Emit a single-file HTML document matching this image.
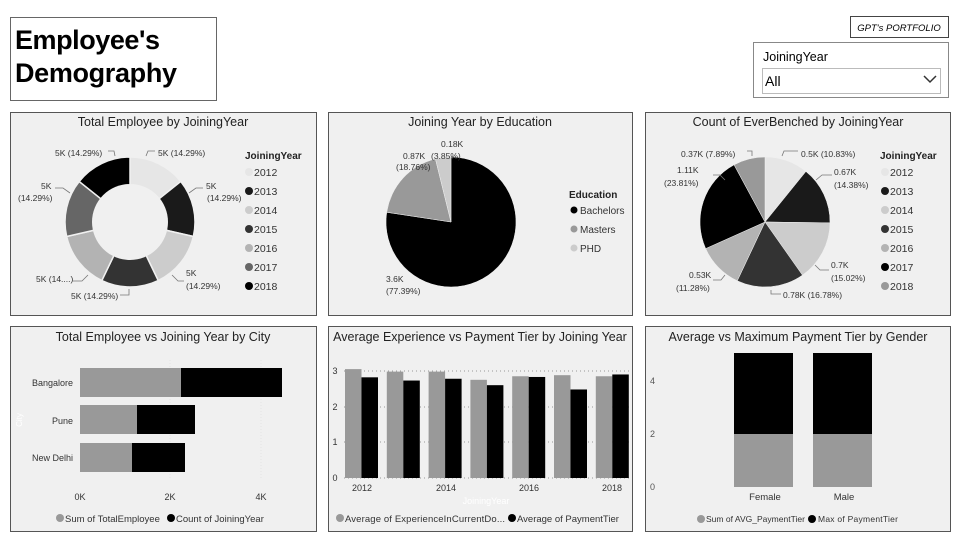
<!DOCTYPE html>
<html><head><meta charset="utf-8"><style>
body{margin:0;background:#fff;width:960px;height:547px;overflow:hidden;font-family:"Liberation Sans",sans-serif}
svg text{font-family:"Liberation Sans",sans-serif}
</style></head><body>
<svg id="s" width="960" height="547" viewBox="0 0 960 547" xmlns="http://www.w3.org/2000/svg">
<rect x="10.5" y="17.5" width="206" height="83" fill="#fff" stroke="#666"/>
<text x="15" y="49" font-size="27" font-weight="bold" fill="#000" textLength="145">Employee's</text>
<text x="15" y="82" font-size="27" font-weight="bold" fill="#000" textLength="162">Demography</text>
<rect x="850.5" y="16.5" width="98" height="21" fill="#fff" stroke="#444"/>
<text x="899" y="31" font-size="9.5" font-style="italic" text-anchor="middle">GPT's PORTFOLIO</text>
<rect x="753.5" y="42.5" width="195" height="55" fill="#fff" stroke="#888"/>
<text x="763" y="61" font-size="12.5">JoiningYear</text>
<rect x="762.5" y="68.5" width="178" height="25" fill="#fff" stroke="#bbb"/>
<text x="765" y="86" font-size="14">All</text>
<path d="M924 76 L930 82 L936 76" fill="none" stroke="#333" stroke-width="1.5"/>

<g fill="#f0f0f0" stroke="#555">
<rect x="10.5" y="112.5" width="306" height="203"/>
<rect x="328.5" y="112.5" width="304" height="203"/>
<rect x="645.5" y="112.5" width="305" height="203"/>
<rect x="10.5" y="326.5" width="306" height="205"/>
<rect x="328.5" y="326.5" width="304" height="205"/>
<rect x="645.5" y="326.5" width="305" height="205"/>
</g>
<g font-size="12.5" text-anchor="middle" fill="#222">
<text x="163" y="126">Total Employee by JoiningYear</text>
<text x="480" y="126">Joining Year by Education</text>
<text x="798" y="126">Count of EverBenched by JoiningYear</text>
<text x="163" y="341">Total Employee vs Joining Year by City</text>
<text x="480" y="341">Average Experience vs Payment Tier by Joining Year</text>
<text x="798" y="341">Average vs Maximum Payment Tier by Gender</text>
</g>
<g id="pies"></g>

<g font-size="10" fill="#333">
<text x="245" y="159" font-weight="bold" fill="#222">JoiningYear</text>
<text x="880" y="159" font-weight="bold" fill="#222">JoiningYear</text>
<text x="569" y="198" font-weight="bold" fill="#222">Education</text>
<circle cx="574" cy="210" r="3.5" fill="#000"/><text x="580" y="214">Bachelors</text>
<circle cx="574" cy="229" r="3.5" fill="#999"/><text x="580" y="233">Masters</text>
<circle cx="574" cy="248" r="3.5" fill="#ccc"/><text x="580" y="252">PHD</text>
</g>
<g fill="none" stroke="#777" stroke-width="0.8">
<path d="M146 156 L148 151 L155 151"/><path d="M108 151 L114 151 L115 156"/>
<path d="M189 193 L196 188 L203 188"/><path d="M55 188 L63 188 L70 193"/>
<path d="M172 275 L178 281 L184 281"/><path d="M73 281 L82 281 L88 275"/>
<path d="M120 295 L129 295 L129 289"/>
<path d="M782 156 L784 151 L798 151"/><path d="M747 151 L752 151 L752 156"/>
<path d="M816 180 L822 175 L832 175"/><path d="M713 175 L720 175 L725 180"/>
<path d="M815 265 L820 270 L829 270"/><path d="M713 280 L721 280 L725 275"/>
<path d="M771 290 L771 294 L781 294"/>
</g>
<g font-size="8.5" fill="#333">
<text x="158" y="156">5K (14.29%)</text>
<text x="55" y="156">5K (14.29%)</text>
<text x="206" y="189">5K</text><text x="207" y="201">(14.29%)</text>
<text x="41" y="189">5K</text><text x="18" y="201">(14.29%)</text>
<text x="186" y="276">5K</text><text x="186" y="289">(14.29%)</text>
<text x="36" y="282">5K (14....)</text>
<text x="71" y="299">5K (14.29%)</text>

<text x="441" y="147">0.18K</text><text x="403" y="159">0.87K</text><text x="431" y="159">(3.85%)</text>
<text x="396" y="170">(18.76%)</text>
<text x="386" y="282">3.6K</text><text x="386" y="294">(77.39%)</text>

<text x="801" y="157">0.5K (10.83%)</text>
<text x="681" y="157">0.37K (7.89%)</text>
<text x="834" y="175">0.67K</text><text x="834" y="188">(14.38%)</text>
<text x="677" y="173">1.11K</text><text x="664" y="186">(23.81%)</text>
<text x="831" y="268">0.7K</text><text x="831" y="281">(15.02%)</text>
<text x="689" y="278">0.53K</text><text x="676" y="291">(11.28%)</text>
<text x="783" y="298">0.78K (16.78%)</text>
</g>

<g>
<line x1="170" y1="360" x2="170" y2="480" stroke="#e4e4e4" stroke-dasharray="1,2"/>
<line x1="261" y1="360" x2="261" y2="480" stroke="#e4e4e4" stroke-dasharray="1,2"/>
<rect x="80" y="368" width="101" height="29" fill="#999"/><rect x="181" y="368" width="101" height="29" fill="#000"/>
<rect x="80" y="405" width="57" height="29" fill="#999"/><rect x="137" y="405" width="58" height="29" fill="#000"/>
<rect x="80" y="443" width="52" height="29" fill="#999"/><rect x="132" y="443" width="53" height="29" fill="#000"/>
<g font-size="9" fill="#333" text-anchor="end">
<text x="73" y="386">Bangalore</text><text x="73" y="424">Pune</text><text x="73" y="461">New Delhi</text>
</g>
<g font-size="9" fill="#333" text-anchor="middle">
<text x="80" y="500">0K</text><text x="170" y="500">2K</text><text x="261" y="500">4K</text>
</g>
<text x="22" y="420" font-size="8" fill="#fff" transform="rotate(-90 22 420)" text-anchor="middle">City</text>
<g font-size="9.5" fill="#333">
<circle cx="60" cy="518" r="4" fill="#999"/><text x="65" y="522">Sum of TotalEmployee</text>
<circle cx="171" cy="518" r="4" fill="#000"/><text x="176" y="522">Count of JoiningYear</text>
</g>
</g>

<g id="mid">
<g stroke="#999" stroke-dasharray="1,3">
<line x1="344" y1="371" x2="631" y2="371"/><line x1="344" y1="407" x2="631" y2="407"/>
<line x1="344" y1="442" x2="631" y2="442"/><line x1="344" y1="478" x2="631" y2="478"/>
</g>
<g font-size="9" fill="#333" text-anchor="middle">
<text x="335" y="374">3</text><text x="335" y="410">2</text><text x="335" y="445">1</text><text x="335" y="481">0</text>
<text x="362" y="491">2012</text><text x="446" y="491">2014</text><text x="529" y="491">2016</text><text x="612" y="491">2018</text>
</g>
<text x="486" y="504" font-size="9" fill="#fff" text-anchor="middle">JoiningYear</text>
<g font-size="9.5" fill="#333">
<circle cx="340" cy="518" r="4" fill="#999"/><text x="345" y="522" textLength="160">Average of ExperienceInCurrentDo...</text>
<circle cx="512" cy="518" r="4" fill="#000"/><text x="517" y="522">Average of PaymentTier</text>
</g>
</g>

<g>
<rect x="734" y="353" width="59" height="81" fill="#000"/><rect x="734" y="434" width="59" height="53" fill="#999"/>
<rect x="813" y="353" width="59" height="81" fill="#000"/><rect x="813" y="434" width="59" height="53" fill="#999"/>
<g font-size="9" fill="#555">
<text x="650" y="384">4</text><text x="650" y="437">2</text><text x="650" y="490">0</text>
</g>
<g font-size="9.5" fill="#333" text-anchor="middle">
<text x="765" y="500">Female</text><text x="844" y="500">Male</text>
</g>
<g font-size="8.5" fill="#333">
<circle cx="701" cy="519" r="4" fill="#999"/><text x="706" y="522" textLength="99">Sum of AVG_PaymentTier</text>
<circle cx="812" cy="519" r="4" fill="#000"/><text x="818" y="522" textLength="80">Max of PaymentTier</text>
</g>
</g>
</svg>
<script>
var NS="http://www.w3.org/2000/svg",P=document.getElementById("pies");
function el(t,a,par){var e=document.createElementNS(NS,t);for(var k in a)e.setAttribute(k,a[k]);(par||P).appendChild(e);return e;}
function pie(cx,cy,r,ri,vals,cols){var tot=vals.reduce(function(a,b){return a+b},0),a0=-Math.PI/2;
vals.forEach(function(v,i){var a1=a0+v/tot*2*Math.PI,lg=(a1-a0)>Math.PI?1:0;
var x0=cx+r*Math.cos(a0),y0=cy+r*Math.sin(a0),x1=cx+r*Math.cos(a1),y1=cy+r*Math.sin(a1);
var d="M"+cx+" "+cy+" L"+x0+" "+y0+" A"+r+" "+r+" 0 "+lg+" 1 "+x1+" "+y1+" Z";
el("path",{d:d,fill:cols[i],stroke:"#f0f0f0","stroke-width":ri?1.5:0.5});a0=a1;});
if(ri)el("circle",{cx:cx,cy:cy,r:ri,fill:"#f0f0f0"});}
var yc=["#e6e6e6","#1a1a1a","#cccccc","#333333","#b3b3b3","#666666","#000000"];
pie(130,222,65,38,[1,1,1,1,1,1,1],yc);
pie(451,222,65,0,[77.39,18.76,3.85],["#000","#999","#ccc"]);
var yc2=["#e6e6e6","#1a1a1a","#cccccc","#333333","#b3b3b3","#000000","#999999"];
pie(765,222,65,0,[10.83,14.38,15.02,16.78,11.28,23.81,7.89],yc2);
function leg(x,cols){var ys=["2012","2013","2014","2015","2016","2017","2018"];
ys.forEach(function(y,i){var yy=172+i*19;el("circle",{cx:x,cy:yy,r:4,fill:cols[i]});var t=el("text",{x:x+5,y:yy+4,"font-size":10.5,fill:"#333"});t.textContent=y;});}
leg(249,yc);leg(885,yc2);
var M=document.getElementById("mid"),g=[3.05,2.98,2.98,2.75,2.85,2.88,2.85],b=[2.82,2.73,2.78,2.6,2.83,2.48,2.9];
for(var i=0;i<7;i++){var x=345+i*41.8;
el("rect",{x:x,y:478-g[i]*35.7,width:16.5,height:g[i]*35.7,fill:"#999"},M);
el("rect",{x:x+16.5,y:478-b[i]*35.7,width:16.5,height:b[i]*35.7,fill:"#000"},M);}
</script>
</body></html>
